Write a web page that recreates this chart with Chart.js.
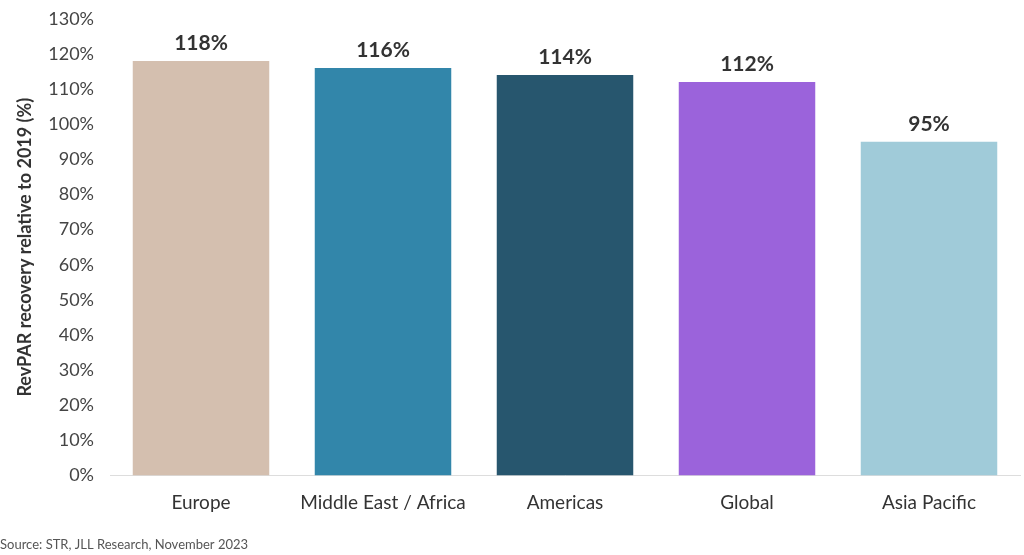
<!DOCTYPE html>
<html>
<head>
<meta charset="utf-8">
<script src="https://cdn.jsdelivr.net/npm/chart.js@4/dist/chart.umd.min.js"></script>
<style>
  html, body { margin: 0; padding: 0; background: #fff; }
  #wrap { width: 1024px; height: 555px; position: relative; }
</style>
</head>
<body>
<div id="wrap"><canvas id="chart1"></canvas></div>
<script>
var regions = ['Europe', 'Middle East / Africa', 'Americas', 'Global', 'Asia Pacific'];
var recovery = [118, 116, 114, 112, 95];
var barColors = ['#D4BFAF', '#3286AA', '#27566E', '#9B63DB', '#A0CBD9'];

var fontFamily = "Lato, 'Noto Sans', sans-serif";

// value labels above bars
var valueLabels = {
  id: 'valueLabels',
  afterDatasetsDraw: function (chart) {
    var ctx = chart.ctx;
    var meta = chart.getDatasetMeta(0);
    ctx.save();
    ctx.font = 'bold 21px ' + fontFamily;
    ctx.fillStyle = '#333333';
    ctx.textAlign = 'center';
    ctx.textBaseline = 'middle';
    meta.data.forEach(function (bar, i) {
      ctx.fillText(recovery[i] + '%', bar.x, bar.y - 18);
    });
    ctx.restore();
  }
};

var ctx = document.getElementById('chart1').getContext('2d');
new Chart(ctx, {
  type: 'bar',
  data: {
    labels: regions,
    datasets: [{
      data: recovery,
      backgroundColor: barColors,
      categoryPercentage: 1,
      barPercentage: 0.75
    }]
  },
  options: {
    responsive: true,
    maintainAspectRatio: false,
    animation: false,
    layout: {
      padding: { top: 7, right: 4, left: 0, bottom: 0 }
    },
    plugins: {
      legend: { display: false },
      tooltip: { enabled: false },
      subtitle: {
        display: true,
        text: 'Source: STR, JLL Research, November 2023',
        position: 'bottom',
        align: 'start',
        color: '#555555',
        font: { family: fontFamily, size: 13 },
        padding: { top: 15, bottom: 2 }
      }
    },
    scales: {
      x: {
        grid: { display: false },
        border: { color: '#dddddd' },
        ticks: {
          color: '#333333',
          padding: 8,
          font: { family: fontFamily, size: 19 }
        }
      },
      y: {
        min: 0,
        max: 130,
        afterFit: function (scale) { scale.width = 110; },
        grid: { display: false },
        border: { display: false },
        ticks: {
          stepSize: 10,
          padding: 8,
          color: '#444444',
          font: { family: fontFamily, size: 18 },
          callback: function (v) { return v + '%'; }
        },
        title: {
          display: true,
          text: 'RevPAR recovery relative to 2019 (%)',
          color: '#333333',
          font: { family: fontFamily, size: 18, weight: 'bold' },
          padding: { top: 14, bottom: 4 }
        }
      }
    }
  },
  plugins: [valueLabels]
});
</script>
</body>
</html>
